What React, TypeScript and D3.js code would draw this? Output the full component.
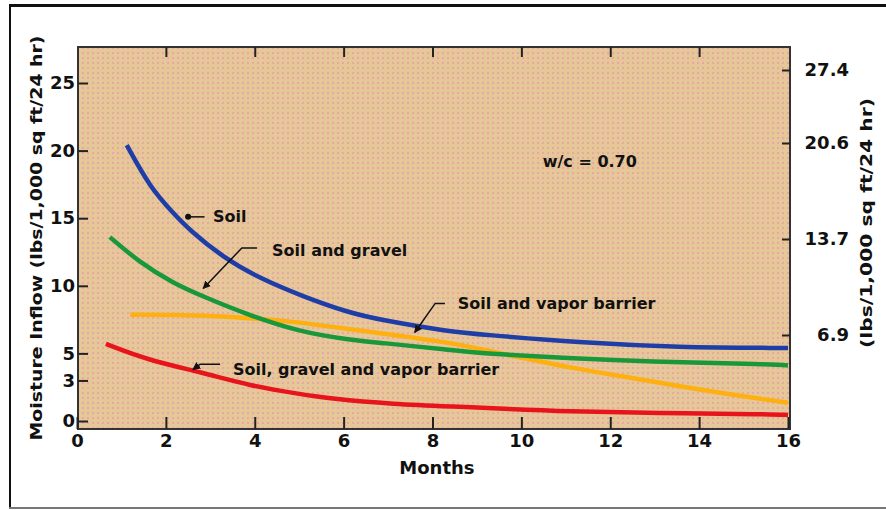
import React, { useEffect, useRef } from 'react';
import * as d3 from 'd3';

// curves (months, lbs/1,000 sq ft/24 hr)
const soilMonths = [1.12, 1.64, 2.16, 2.54, 3.29, 4.05, 5.09, 6.13, 6.8, 8.4, 9.1, 11.3, 13.5, 16];
const soilValues = [20.4, 17.3, 15.4, 14.1, 12.1, 10.65, 9.2, 8.0, 7.5, 6.6, 6.4, 5.8, 5.45, 5.4];

const gravelMonths = [0.74, 1.42, 2.16, 2.84, 3.89, 5.0, 6.13, 6.8, 8.4, 9.1, 11.3, 12.7, 15.7, 16];
const gravelValues = [13.6, 11.7, 10.2, 9.2, 7.8, 6.6, 6.0, 5.8, 5.25, 5.0, 4.6, 4.4, 4.2, 4.1];

const vaporMonths = [1.2, 2.5, 3.5, 4.8, 6.1, 6.8, 8.4, 9.1, 11.3, 12.5, 14, 16];
const vaporValues = [7.85, 7.85, 7.7, 7.4, 6.8, 6.5, 5.8, 5.3, 3.8, 3.2, 2.3, 1.35];

const allMonths = [0.65, 1.6, 2.8, 3.9, 5.0, 5.7, 7.1, 8.6, 9.3, 11.1, 13, 15.6, 16];
const allValues = [5.7, 4.5, 3.6, 2.6, 2.0, 1.65, 1.25, 1.05, 0.95, 0.7, 0.6, 0.5, 0.45];

const monthTicks = [0, 2, 4, 6, 8, 10, 12, 14, 16];
const leftTicks = [0, 3, 5, 10, 15, 20, 25];
const rightTicks = [6.9, 13.7, 20.6, 27.4];

const width = 886;
const height = 510;
const font = "'DejaVu Sans', sans-serif";

const App = () => {
  const svgRef = useRef(null);

  useEffect(() => {
    const svg = d3.select(svgRef.current);
    svg.selectAll('*').remove();

    const x = d3.scaleLinear().domain([0, 16]).range([77, 788]);
    const y = d3.scaleLinear().domain([0, 25]).range([421, 83]);
    // the right-hand ticks are not evenly spaced in the original
    const yRight = d3.scaleLinear().domain(rightTicks).range([335, 239, 143, 70]);

    const left = 78;
    const right = 790;
    const top = 47;
    const bottom = 429;

    // dotted tan background
    const defs = svg.append('defs');
    const pat = defs
      .append('pattern')
      .attr('id', 'dots')
      .attr('width', 5)
      .attr('height', 5)
      .attr('patternUnits', 'userSpaceOnUse');
    pat.append('rect').attr('width', 5).attr('height', 5).attr('fill', '#E6C898');
    pat.append('rect').attr('x', 2).attr('y', 2).attr('width', 2).attr('height', 2).attr('fill', '#E8A6A4');

    defs
      .append('marker')
      .attr('id', 'arrow')
      .attr('viewBox', '0 0 10 10')
      .attr('refX', 9)
      .attr('refY', 5)
      .attr('markerWidth', 8)
      .attr('markerHeight', 8)
      .attr('markerUnits', 'userSpaceOnUse')
      .attr('orient', 'auto')
      .append('path')
      .attr('d', 'M0,0 L10,5 L0,10 Z')
      .attr('fill', '#111');

    // outer frame
    svg.append('line').attr('x1', 9).attr('x2', width).attr('y1', 5.5).attr('y2', 5.5).attr('stroke', '#111').attr('stroke-width', 3);
    svg.append('line').attr('x1', 10).attr('x2', 10).attr('y1', 5).attr('y2', 508).attr('stroke', '#111').attr('stroke-width', 2);
    svg.append('line').attr('x1', 9).attr('x2', width).attr('y1', 508).attr('y2', 508).attr('stroke', '#777').attr('stroke-width', 2);

    svg
      .append('rect')
      .attr('x', left)
      .attr('y', top)
      .attr('width', right - left)
      .attr('height', bottom - top)
      .attr('fill', 'url(#dots)')
      .attr('stroke', '#333')
      .attr('stroke-width', 2);

    const styleAxis = (g, size) => {
      g.select('.domain').remove();
      g.selectAll('line').attr('stroke', '#222').attr('stroke-width', 2);
      g.selectAll('text')
        .attr('fill', '#111')
        .style('font-family', font)
        .style('font-weight', 'bold')
        .style('font-size', `${size}px`);
    };

    svg
      .append('g')
      .attr('transform', `translate(${left},0)`)
      .call(d3.axisLeft(y).tickValues(leftTicks).tickSize(-10).tickPadding(3))
      .call((g) => styleAxis(g, 18));

    svg
      .append('g')
      .attr('transform', `translate(0,${bottom})`)
      .call(d3.axisBottom(x).tickValues(monthTicks).tickSize(-12).tickPadding(5))
      .call((g) => styleAxis(g, 18));

    svg
      .append('g')
      .attr('transform', `translate(0,${top})`)
      .call(d3.axisTop(x).tickValues(monthTicks.slice(1, -1)).tickSize(-10).tickFormat(() => ''))
      .call((g) => styleAxis(g, 18));

    const ra = svg
      .append('g')
      .attr('transform', `translate(${right},0)`)
      .call(d3.axisRight(yRight).tickValues(rightTicks).tickSize(-8).tickFormat(d3.format('.1f')))
      .call((g) => styleAxis(g, 18));
    ra.selectAll('text').attr('x', 59).attr('text-anchor', 'end');

    // curves
    const line = d3
      .line()
      .x((d) => x(d[0]))
      .y((d) => y(d[1]))
      .curve(d3.curveBasis);

    const series = [
      { m: vaporMonths, v: vaporValues, color: '#FDB010' },
      { m: allMonths, v: allValues, color: '#E8141C' },
      { m: gravelMonths, v: gravelValues, color: '#18983A' },
      { m: soilMonths, v: soilValues, color: '#1F3DA6' },
    ];

    series.forEach((s) => {
      svg
        .append('path')
        .datum(d3.zip(s.m, s.v))
        .attr('fill', 'none')
        .attr('stroke', s.color)
        .attr('stroke-width', 4.5)
        .attr('stroke-linejoin', 'round')
        .attr('d', line);
    });

    // callouts: tip, elbow, end of leader, text start (in data units)
    const callouts = [
      { label: 'Soil', tip: [2.5, 15.1], elbow: [2.5, 15.1], end: [2.87, 15.1], text: [3.06, 15.1], dot: true },
      { label: 'Soil and gravel', tip: [2.84, 9.8], elbow: [3.71, 12.8], end: [4.05, 12.8], text: [4.39, 12.6] },
      { label: 'Soil and vapor barrier', tip: [7.6, 6.55], elbow: [8.06, 8.7], end: [8.28, 8.7], text: [8.57, 8.7] },
      { label: 'Soil, gravel and vapor barrier', tip: [2.61, 3.8], elbow: [2.77, 4.2], end: [3.22, 4.2], text: [3.51, 3.85] },
    ];

    callouts.forEach((c) => {
      svg
        .append('path')
        .attr('d', d3.line()([
          [x(c.end[0]), y(c.end[1])],
          [x(c.elbow[0]), y(c.elbow[1])],
          [x(c.tip[0]), y(c.tip[1])],
        ]))
        .attr('fill', 'none')
        .attr('stroke', '#111')
        .attr('stroke-width', 1.5)
        .attr('marker-end', c.dot ? null : 'url(#arrow)');
      if (c.dot) {
        svg.append('circle').attr('cx', x(c.tip[0])).attr('cy', y(c.tip[1])).attr('r', 3).attr('fill', '#111');
      }
      svg
        .append('text')
        .attr('x', x(c.text[0]))
        .attr('y', y(c.text[1]))
        .attr('dy', '0.35em')
        .attr('fill', '#111')
        .style('font-family', font)
        .style('font-weight', 'bold')
        .style('font-size', '16px')
        .text(c.label);
    });

    svg
      .append('text')
      .attr('x', x(11.54))
      .attr('y', y(19.2))
      .attr('dy', '0.35em')
      .attr('text-anchor', 'middle')
      .attr('fill', '#111')
      .style('font-family', font)
      .style('font-weight', 'bold')
      .style('font-size', '16px')
      .text('w/c = 0.70');

    // axis titles
    svg
      .append('text')
      .attr('x', x(8.1))
      .attr('y', 468)
      .attr('dy', '0.35em')
      .attr('text-anchor', 'middle')
      .attr('fill', '#111')
      .style('font-family', font)
      .style('font-weight', 'bold')
      .style('font-size', '18px')
      .text('Months');

    svg
      .append('text')
      .attr('transform', 'translate(36,238) rotate(-90)')
      .attr('dy', '0.35em')
      .attr('text-anchor', 'middle')
      .attr('fill', '#111')
      .attr('textLength', 405)
      .attr('lengthAdjust', 'spacingAndGlyphs')
      .style('font-family', font)
      .style('font-weight', 'bold')
      .style('font-size', '16px')
      .text('Moisture Inflow (lbs/1,000 sq ft/24 hr)');

    svg
      .append('text')
      .attr('transform', 'translate(866,223) rotate(-90)')
      .attr('dy', '0.35em')
      .attr('text-anchor', 'middle')
      .attr('fill', '#111')
      .attr('textLength', 250)
      .attr('lengthAdjust', 'spacingAndGlyphs')
      .style('font-family', font)
      .style('font-weight', 'bold')
      .style('font-size', '16px')
      .text('(lbs/1,000 sq ft/24 hr)');
  }, []);

  return (
    <svg
      ref={svgRef}
      width={width}
      height={height}
      style={{ position: 'absolute', left: 0, top: 0, background: '#fff' }}
    />
  );
};

export default App;
